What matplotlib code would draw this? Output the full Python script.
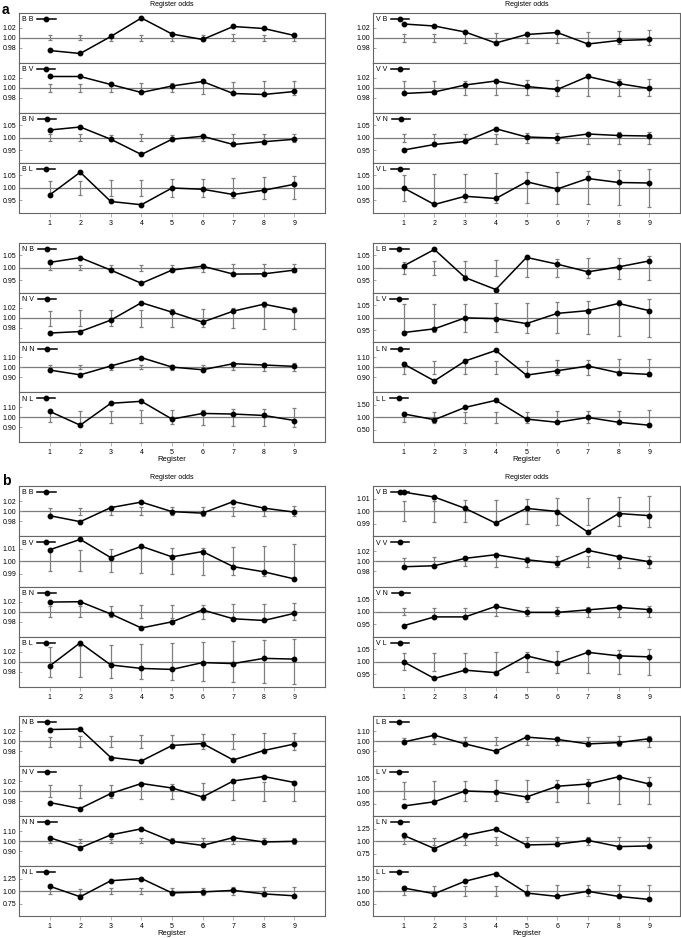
import matplotlib
matplotlib.use("Agg")
import matplotlib.pyplot as plt
import numpy as np

plt.rcParams["font.family"] = ["Liberation Sans", "DejaVu Sans"]

registers = [1, 2, 3, 4, 5, 6, 7, 8, 9]

# ---- panel a: observed register odds and null interval (lo/hi) ----
a_BB = [0.975, 0.969, 1.003, 1.040, 1.008, 0.997, 1.023, 1.019, 1.005]
a_BB_lo = [0.995, 0.995, 0.994, 0.994, 0.994, 0.994, 0.993, 0.994, 0.994]
a_BB_hi = [1.005, 1.005, 1.007, 1.006, 1.008, 1.006, 1.007, 1.006, 1.008]
a_BV = [1.023, 1.023, 1.007, 0.991, 1.004, 1.013, 0.989, 0.987, 0.993]
a_BV_lo = [0.992, 0.991, 0.991, 0.990, 0.991, 0.988, 0.987, 0.986, 0.986]
a_BV_hi = [1.007, 1.008, 1.009, 1.009, 1.009, 1.011, 1.012, 1.013, 1.014]
a_BN = [1.032, 1.044, 0.995, 0.934, 0.995, 1.007, 0.974, 0.985, 0.995]
a_BN_lo = [0.988, 0.989, 0.989, 0.988, 0.988, 0.986, 0.984, 0.982, 0.982]
a_BN_hi = [1.014, 1.014, 1.011, 1.014, 1.012, 1.012, 1.014, 1.015, 1.016]
a_BL = [0.972, 1.063, 0.946, 0.933, 1.000, 0.995, 0.974, 0.991, 1.015]
a_BL_lo = [0.967, 0.971, 0.967, 0.967, 0.965, 0.963, 0.959, 0.957, 0.954]
a_BL_hi = [1.028, 1.029, 1.032, 1.033, 1.036, 1.037, 1.040, 1.042, 1.046]

a_VB = [1.028, 1.024, 1.012, 0.990, 1.007, 1.011, 0.988, 0.995, 0.997]
a_VB_lo = [0.992, 0.992, 0.990, 0.990, 0.990, 0.990, 0.989, 0.987, 0.986]
a_VB_hi = [1.008, 1.008, 1.010, 1.010, 1.010, 1.011, 1.012, 1.013, 1.015]
a_VV = [0.989, 0.992, 1.006, 1.014, 1.003, 0.997, 1.023, 1.009, 0.999]
a_VV_lo = [0.989, 0.988, 0.986, 0.985, 0.985, 0.984, 0.983, 0.983, 0.983]
a_VV_hi = [1.013, 1.013, 1.014, 1.015, 1.015, 1.016, 1.025, 1.017, 1.017]
a_VN = [0.952, 0.974, 0.986, 1.037, 1.004, 1.000, 1.016, 1.010, 1.008]
a_VN_lo = [0.984, 0.982, 0.982, 0.977, 0.980, 0.978, 0.977, 0.974, 0.974]
a_VN_hi = [1.015, 1.015, 1.015, 1.016, 1.018, 1.019, 1.021, 1.022, 1.023]
a_VL = [1.000, 0.934, 0.967, 0.958, 1.025, 0.996, 1.038, 1.022, 1.020]
a_VL_lo = [0.949, 0.941, 0.945, 0.941, 0.938, 0.937, 0.934, 0.930, 0.925]
a_VL_hi = [1.050, 1.057, 1.057, 1.059, 1.062, 1.063, 1.066, 1.070, 1.075]

a_NB = [1.022, 1.041, 0.991, 0.938, 0.991, 1.007, 0.975, 0.976, 0.991]
a_NB_lo = [0.990, 0.990, 0.986, 0.987, 0.986, 0.984, 0.982, 0.982, 0.982]
a_NB_hi = [1.016, 1.013, 1.013, 1.013, 1.013, 1.015, 1.016, 1.016, 1.017]
a_NV = [0.969, 0.972, 0.995, 1.030, 1.011, 0.991, 1.013, 1.027, 1.015]
a_NV_lo = [0.984, 0.984, 0.983, 0.982, 0.981, 0.981, 0.979, 0.978, 0.977]
a_NV_hi = [1.014, 1.015, 1.015, 1.016, 1.017, 1.018, 1.019, 1.021, 1.021]
a_NN = [0.973, 0.925, 1.014, 1.098, 1.003, 0.976, 1.037, 1.024, 1.010]
a_NN_lo = [0.976, 0.980, 0.976, 0.980, 0.976, 0.973, 0.970, 0.963, 0.963]
a_NN_hi = [1.020, 1.020, 1.027, 1.024, 1.027, 1.027, 1.037, 1.041, 1.041]
a_NL = [1.058, 0.919, 1.139, 1.159, 0.980, 1.037, 1.031, 1.017, 0.966]
a_NL_lo = [0.949, 0.936, 0.936, 0.936, 0.929, 0.925, 0.915, 0.912, 0.902]
a_NL_hi = [1.058, 1.061, 1.064, 1.068, 1.071, 1.075, 1.081, 1.081, 1.092]

a_LB = [1.008, 1.074, 0.961, 0.913, 1.042, 1.015, 0.984, 1.004, 1.028]
a_LB_lo = [0.974, 0.971, 0.970, 0.967, 0.965, 0.962, 0.959, 0.955, 0.953]
a_LB_hi = [1.024, 1.026, 1.029, 1.032, 1.034, 1.037, 1.038, 1.041, 1.046]
a_LV = [0.940, 0.955, 0.999, 0.996, 0.976, 1.017, 1.028, 1.057, 1.028]
a_LV_lo = [0.945, 0.943, 0.943, 0.941, 0.940, 0.937, 0.933, 0.928, 0.922]
a_LV_hi = [1.053, 1.055, 1.055, 1.057, 1.059, 1.063, 1.066, 1.070, 1.076]
a_LN = [1.034, 0.864, 1.064, 1.170, 0.922, 0.966, 1.014, 0.946, 0.929]
a_LN_lo = [0.936, 0.936, 0.932, 0.932, 0.925, 0.925, 0.925, 0.919, 0.915]
a_LN_hi = [1.054, 1.061, 1.064, 1.064, 1.068, 1.071, 1.075, 1.081, 1.085]
a_LL = [1.130, 0.896, 1.390, 1.675, 0.922, 0.792, 0.987, 0.792, 0.675]
a_LL_lo = [0.792, 0.779, 0.779, 0.779, 0.766, 0.766, 0.766, 0.753, 0.740]
a_LL_hi = [1.208, 1.208, 1.208, 1.221, 1.221, 1.234, 1.234, 1.247, 1.273]

# ---- panel b ----
b_BB = [0.991, 0.979, 1.007, 1.018, 0.999, 0.996, 1.019, 1.006, 0.998]
b_BB_lo = [0.993, 0.993, 0.992, 0.992, 0.992, 0.991, 0.991, 0.991, 0.990]
b_BB_hi = [1.007, 1.007, 1.007, 1.008, 1.009, 1.009, 1.009, 1.009, 1.010]
b_BV = [1.0092, 1.0175, 1.0030, 1.0120, 1.0036, 1.0078, 0.9958, 0.9917, 0.9860]
b_BV_lo = [0.9925, 0.9922, 0.9917, 0.9908, 0.9900, 0.9894, 0.9889, 0.9880, 0.9861]
b_BV_hi = [1.0094, 1.0094, 1.0097, 1.0103, 1.0106, 1.0108, 1.0114, 1.0122, 1.0142]
b_BN = [1.0190, 1.0197, 0.9953, 0.9675, 0.9797, 1.0034, 0.9858, 0.9824, 0.9966]
b_BN_lo = [0.9898, 0.9892, 0.9885, 0.9871, 0.9864, 0.9858, 0.9851, 0.9837, 0.9824]
b_BN_hi = [1.0108, 1.0108, 1.0115, 1.0122, 1.0129, 1.0136, 1.0142, 1.0156, 1.0163]
b_BL = [0.9917, 1.0380, 0.9938, 0.9870, 0.9850, 0.9986, 0.9966, 1.0070, 1.0055]
b_BL_lo = [0.970, 0.969, 0.967, 0.965, 0.963, 0.961, 0.959, 0.957, 0.955]
b_BL_hi = [1.030, 1.031, 1.034, 1.036, 1.038, 1.039, 1.041, 1.043, 1.046]

b_VB = [1.0151, 1.0112, 1.0022, 0.9904, 1.0022, 0.9997, 0.9833, 0.9981, 0.9964]
b_VB_lo = [0.9920, 0.9915, 0.9910, 0.9900, 0.9896, 0.9893, 0.9888, 0.9880, 0.9877]
b_VB_hi = [1.0080, 1.0080, 1.0085, 1.0090, 1.0096, 1.0101, 1.0104, 1.0112, 1.0118]
b_VV = [0.9893, 0.9913, 1.0060, 1.0133, 1.0033, 0.9967, 1.0220, 1.0093, 0.9993]
b_VV_lo = [0.991, 0.991, 0.991, 0.989, 0.989, 0.988, 0.988, 0.987, 0.987]
b_VV_hi = [1.007, 1.008, 1.009, 1.009, 1.009, 1.010, 1.011, 1.012, 1.011]
b_VN = [0.944, 0.979, 0.979, 1.021, 0.997, 0.997, 1.007, 1.017, 1.008]
b_VN_lo = [0.987, 0.985, 0.984, 0.984, 0.983, 0.981, 0.980, 0.979, 0.979]
b_VN_hi = [1.013, 1.015, 1.015, 1.017, 1.017, 1.019, 1.020, 1.021, 1.023]
b_VL = [1.000, 0.934, 0.967, 0.957, 1.024, 0.995, 1.038, 1.024, 1.020]
b_VL_lo = [0.967, 0.963, 0.963, 0.958, 0.959, 0.955, 0.954, 0.951, 0.949]
b_VL_hi = [1.034, 1.036, 1.036, 1.041, 1.040, 1.043, 1.045, 1.047, 1.050]

b_NB = [1.023, 1.024, 0.967, 0.960, 0.991, 0.995, 0.962, 0.981, 0.994]
b_NB_lo = [0.989, 0.989, 0.988, 0.987, 0.987, 0.985, 0.985, 0.983, 0.983]
b_NB_hi = [1.009, 1.011, 1.011, 1.012, 1.013, 1.014, 1.015, 1.017, 1.017]
b_NV = [0.977, 0.965, 0.995, 1.015, 1.006, 0.988, 1.020, 1.029, 1.017]
b_NV_lo = [0.988, 0.987, 0.987, 0.985, 0.984, 0.982, 0.982, 0.981, 0.980]
b_NV_hi = [1.012, 1.013, 1.013, 1.014, 1.015, 1.017, 1.017, 1.019, 1.021]
b_NN = [1.034, 0.932, 1.061, 1.122, 0.997, 0.956, 1.034, 0.990, 0.997]
b_NN_lo = [0.980, 0.976, 0.976, 0.976, 0.976, 0.973, 0.973, 0.970, 0.970]
b_NN_hi = [1.024, 1.024, 1.024, 1.027, 1.027, 1.031, 1.034, 1.034, 1.034]
b_NL = [1.096, 0.885, 1.205, 1.250, 0.962, 0.981, 1.013, 0.942, 0.904]
b_NL_lo = [0.949, 0.940, 0.936, 0.936, 0.929, 0.923, 0.917, 0.910, 0.897]
b_NL_hi = [1.051, 1.045, 1.058, 1.064, 1.064, 1.064, 1.071, 1.077, 1.077]

b_LB = [0.990, 1.058, 0.971, 0.897, 1.039, 1.016, 0.971, 0.984, 1.023]
b_LB_lo = [0.971, 0.968, 0.965, 0.965, 0.961, 0.958, 0.952, 0.948, 0.945]
b_LB_hi = [1.026, 1.032, 1.036, 1.036, 1.042, 1.045, 1.045, 1.048, 1.052]
b_LV = [0.940, 0.957, 1.000, 0.996, 0.976, 1.019, 1.028, 1.057, 1.028]
b_LV_lo = [0.967, 0.963, 0.961, 0.959, 0.957, 0.956, 0.953, 0.949, 0.947]
b_LV_hi = [1.037, 1.039, 1.040, 1.043, 1.044, 1.045, 1.048, 1.051, 1.055]
b_LN = [1.112, 0.849, 1.112, 1.237, 0.921, 0.934, 1.013, 0.888, 0.901]
b_LN_lo = [0.934, 0.928, 0.928, 0.928, 0.921, 0.921, 0.914, 0.908, 0.901]
b_LN_hi = [1.066, 1.059, 1.066, 1.072, 1.072, 1.079, 1.086, 1.086, 1.086]
b_LL = [1.120, 0.892, 1.390, 1.700, 0.919, 0.784, 0.987, 0.784, 0.662]
b_LL_lo = [0.838, 0.824, 0.811, 0.811, 0.797, 0.784, 0.784, 0.770, 0.730]
b_LL_hi = [1.200, 1.200, 1.200, 1.216, 1.230, 1.230, 1.230, 1.243, 1.257]

# layout (pixels): column x-extent, group y-extent
W, H = 681, 938
COLS = {"L": (19, 325), "R": (373, 680)}
GROUPS = {"a1": (13, 213), "a2": (243, 442), "b1": (486, 687), "b2": (716, 916)}

# group, column, row, label, odds, lo, hi, (ymin, ymax), tick step
PANELS = [
    ("a1", "L", 0, "B B", a_BB, a_BB_lo, a_BB_hi, (0.95, 1.05), 0.02),
    ("a1", "L", 1, "B V", a_BV, a_BV_lo, a_BV_hi, (0.95, 1.05), 0.02),
    ("a1", "L", 2, "B N", a_BN, a_BN_lo, a_BN_hi, (0.90, 1.10), 0.05),
    ("a1", "L", 3, "B L", a_BL, a_BL_lo, a_BL_hi, (0.90, 1.10), 0.05),
    ("a1", "R", 0, "V B", a_VB, a_VB_lo, a_VB_hi, (0.95, 1.05), 0.02),
    ("a1", "R", 1, "V V", a_VV, a_VV_lo, a_VV_hi, (0.95, 1.05), 0.02),
    ("a1", "R", 2, "V N", a_VN, a_VN_lo, a_VN_hi, (0.90, 1.10), 0.05),
    ("a1", "R", 3, "V L", a_VL, a_VL_lo, a_VL_hi, (0.90, 1.10), 0.05),
    ("a2", "L", 0, "N B", a_NB, a_NB_lo, a_NB_hi, (0.90, 1.10), 0.05),
    ("a2", "L", 1, "N V", a_NV, a_NV_lo, a_NV_hi, (0.95, 1.05), 0.02),
    ("a2", "L", 2, "N N", a_NN, a_NN_lo, a_NN_hi, (0.75, 1.25), 0.10),
    ("a2", "L", 3, "N L", a_NL, a_NL_lo, a_NL_hi, (0.75, 1.25), 0.10),
    ("a2", "R", 0, "L B", a_LB, a_LB_lo, a_LB_hi, (0.90, 1.10), 0.05),
    ("a2", "R", 1, "L V", a_LV, a_LV_lo, a_LV_hi, (0.90, 1.10), 0.05),
    ("a2", "R", 2, "L N", a_LN, a_LN_lo, a_LN_hi, (0.75, 1.25), 0.10),
    ("a2", "R", 3, "L L", a_LL, a_LL_lo, a_LL_hi, (0.00, 2.00), 0.50),
    ("b1", "L", 0, "B B", b_BB, b_BB_lo, b_BB_hi, (0.95, 1.05), 0.02),
    ("b1", "L", 1, "B V", b_BV, b_BV_lo, b_BV_hi, (0.98, 1.02), 0.01),
    ("b1", "L", 2, "B N", b_BN, b_BN_lo, b_BN_hi, (0.95, 1.05), 0.02),
    ("b1", "L", 3, "B L", b_BL, b_BL_lo, b_BL_hi, (0.95, 1.05), 0.02),
    ("b1", "R", 0, "V B", b_VB, b_VB_lo, b_VB_hi, (0.98, 1.02), 0.01),
    ("b1", "R", 1, "V V", b_VV, b_VV_lo, b_VV_hi, (0.95, 1.05), 0.02),
    ("b1", "R", 2, "V N", b_VN, b_VN_lo, b_VN_hi, (0.90, 1.10), 0.05),
    ("b1", "R", 3, "V L", b_VL, b_VL_lo, b_VL_hi, (0.90, 1.10), 0.05),
    ("b2", "L", 0, "N B", b_NB, b_NB_lo, b_NB_hi, (0.95, 1.05), 0.02),
    ("b2", "L", 1, "N V", b_NV, b_NV_lo, b_NV_hi, (0.95, 1.05), 0.02),
    ("b2", "L", 2, "N N", b_NN, b_NN_lo, b_NN_hi, (0.75, 1.25), 0.10),
    ("b2", "L", 3, "N L", b_NL, b_NL_lo, b_NL_hi, (0.50, 1.50), 0.25),
    ("b2", "R", 0, "L B", b_LB, b_LB_lo, b_LB_hi, (0.75, 1.25), 0.10),
    ("b2", "R", 1, "L V", b_LV, b_LV_lo, b_LV_hi, (0.90, 1.10), 0.05),
    ("b2", "R", 2, "L N", b_LN, b_LN_lo, b_LN_hi, (0.50, 1.50), 0.25),
    ("b2", "R", 3, "L L", b_LL, b_LL_lo, b_LL_hi, (0.00, 2.00), 0.50),
]

fig = plt.figure(figsize=(W / 100, H / 100), dpi=100)
x = np.array(registers)

for grp, col, row, lab, odds, lo, hi, ylim, step in PANELS:
    x0, x1 = COLS[col]
    g0, g1 = GROUPS[grp]
    ph = (g1 - g0) / 4
    top = g0 + row * ph
    ax = fig.add_axes([x0 / W, 1 - (top + ph) / H, (x1 - x0) / W, ph / H])
    lo = np.array(lo); hi = np.array(hi)
    ax.axhline(1.0, color="#7a7a7a", lw=0.9, zorder=1)
    ax.errorbar(x, (lo + hi) / 2, yerr=(hi - lo) / 2, fmt="none", ecolor="#7f7f7f",
                elinewidth=0.9, capsize=1.4, capthick=0.9, zorder=2)
    ax.plot(x, odds, "o-", color="black", lw=1.1, ms=3.2, label=lab, zorder=3)
    ax.set_xlim(0, 10); ax.set_ylim(*ylim)
    yt = [1 - step, 1.0, 1 + step]
    ax.set_yticks(yt); ax.set_yticklabels([f"{v:.2f}" for v in yt])
    ax.tick_params(axis="y", direction="in", length=2, width=0.6, color="#999999",
                   labelsize=5, pad=2)
    if row == 3:
        ax.set_xticks(registers)
        ax.tick_params(axis="x", direction="out", length=3, width=0.6,
                       color="#aaaaaa", labelsize=5, pad=2)
    else:
        ax.set_xticks([])
    for s in ax.spines.values():
        s.set_color("#666666"); s.set_linewidth(0.8)
    ax.legend(loc="upper left", markerfirst=False, frameon=False, fontsize=5,
              handlelength=2.6, handletextpad=0.5, borderaxespad=0.2, borderpad=0.3)

# section letters and titles
fig.text(2 / W, 1 - 10 / H, "a", fontsize=10, weight="bold", va="center")
fig.text(2 / W, 1 - 481 / H, "b", fontsize=10, weight="bold", va="center")
for yy in (5, 477):
    for c in COLS.values():
        fig.text((c[0] + c[1]) / 2 / W, 1 - yy / H, "Register odds", fontsize=5,
                 ha="center", va="center")
for yy in (459, 933):
    for c in COLS.values():
        fig.text((c[0] + c[1]) / 2 / W, 1 - yy / H, "Register", fontsize=5.5,
                 ha="center", va="center")

fig.savefig("out.png", dpi=100)
